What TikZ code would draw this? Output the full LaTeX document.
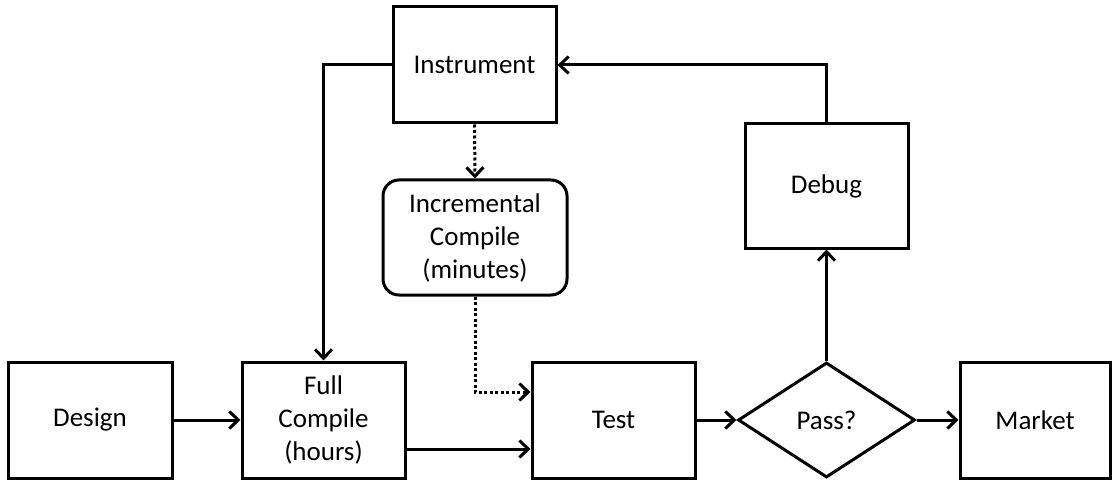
\documentclass[tikz,border=0pt]{standalone}
\usepackage{fontspec}
\setmainfont{Carlito}
\usetikzlibrary{arrows.meta,shapes.geometric,calc}

\begin{document}
\begin{tikzpicture}[x=1pt,y=1pt,
  label font/.style={font=\fontsize{27}{33}\selectfont},
  stagebox/.style={draw, line width=3pt, rectangle, minimum width=163pt,
    minimum height=116pt, inner sep=0pt, align=center, label font},
  roundbox/.style={stagebox, rounded corners=16pt, minimum width=184pt,
    minimum height=115pt},
  decision/.style={draw, line width=3pt, diamond, minimum width=177pt,
    minimum height=115pt, inner sep=0pt, label font},
  conn/.style={line width=3pt, -{Straight Barb[length=9pt,width=17pt]}},
  dotconn/.style={conn, dash pattern=on 3pt off 2.5pt},
]
  % canvas
  \fill[white] (0,0) rectangle (1116,480);
  \useasboundingbox (0,0) rectangle (1116,480);

  % stages
  \node[stagebox] (inst)   at (474.5,415) {Instrument};
  \node[roundbox] (inc)    at (475,242.5) {Incremental\\Compile\\(minutes)};
  \node[stagebox, minimum height=124pt] (debug) at (826.5,294) {Debug};
  \node[stagebox, minimum width=164pt] (design) at (90,60) {Design};
  \node[stagebox] (full)   at (323.5,60) {Full\\Compile\\(hours)};
  \node[stagebox] (test)   at (613.5,60) {Test};
  \node[decision] (pass)   at (826.5,60) {Pass?};
  \node[stagebox, minimum width=150pt] (market) at (1035,60) {Market};

  % side entry points on Test
  \coordinate (testhi) at ($(test.west)+(0,28)$);
  \coordinate (testlo) at ($(test.west)+(0,-29)$);
  \coordinate (fulllo) at ($(full.east)+(0,-29)$);

  % main flow
  \draw[conn] (design) -- (full);
  \draw[conn] (fulllo) -- (testlo);
  \draw[conn] (test) -- (pass.west);
  \draw[conn] (pass.east) -- (market);

  % debug loop
  \draw[conn] (pass.north) -- (debug.south);
  \draw[conn] (debug.north) |- (inst.east);
  \draw[conn] (inst.west) -| (full.north);

  % incremental path
  \draw[dotconn] (inst.south) -- (inc.north);
  \draw[dotconn] (inc.south) |- (testhi);
\end{tikzpicture}
\end{document}
